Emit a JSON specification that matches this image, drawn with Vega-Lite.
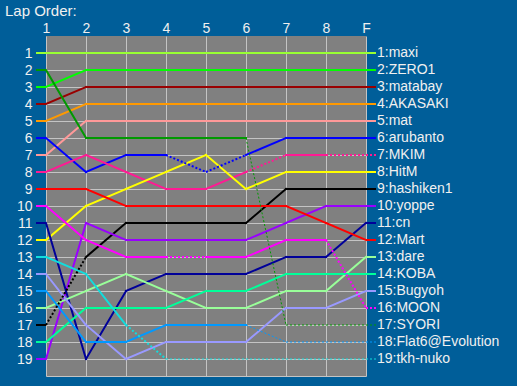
{
  "$schema": "https://vega.github.io/schema/vega-lite/v6.json",
  "autosize": "none",
  "width": 320,
  "height": 340,
  "padding": {"left": 46, "top": 36, "right": 151, "bottom": 10},
  "background": "#005e99",
  "title": {"text": "Lap Order:", "anchor": "start", "frame": "group", "dx": -41, "dy": 2, "fontSize": 15, "font": "Liberation Sans", "fontWeight": "normal", "color": "#f0f0f0", "offset": 4},
  "config": {
    "view": {"fill": "#808080", "stroke": null},
    "axis": {"labelColor": "#f0f0f0", "labelFont": "Liberation Sans", "labelFontSize": 14, "domain": false, "ticks": false, "tickSize": 0, "grid": true, "gridColor": "#c4c4c4", "gridWidth": 1, "title": null}
  },
  "data": {"values": [
    {"n":"maxi","l":1,"p":1},{"n":"maxi","l":2,"p":1},{"n":"maxi","l":3,"p":1},{"n":"maxi","l":4,"p":1},{"n":"maxi","l":5,"p":1},{"n":"maxi","l":6,"p":1},{"n":"maxi","l":7,"p":1},{"n":"maxi","l":8,"p":1},{"n":"maxi","l":9,"p":1},
    {"n":"ZERO1","l":1,"p":3},{"n":"ZERO1","l":2,"p":2},{"n":"ZERO1","l":3,"p":2},{"n":"ZERO1","l":4,"p":2},{"n":"ZERO1","l":5,"p":2},{"n":"ZERO1","l":6,"p":2},{"n":"ZERO1","l":7,"p":2},{"n":"ZERO1","l":8,"p":2},{"n":"ZERO1","l":9,"p":2},
    {"n":"matabay","l":1,"p":4},{"n":"matabay","l":2,"p":3},{"n":"matabay","l":3,"p":3},{"n":"matabay","l":4,"p":3},{"n":"matabay","l":5,"p":3},{"n":"matabay","l":6,"p":3},{"n":"matabay","l":7,"p":3},{"n":"matabay","l":8,"p":3},{"n":"matabay","l":9,"p":3},
    {"n":"AKASAKI","l":1,"p":5},{"n":"AKASAKI","l":2,"p":4},{"n":"AKASAKI","l":3,"p":4},{"n":"AKASAKI","l":4,"p":4},{"n":"AKASAKI","l":5,"p":4},{"n":"AKASAKI","l":6,"p":4},{"n":"AKASAKI","l":7,"p":4},{"n":"AKASAKI","l":8,"p":4},{"n":"AKASAKI","l":9,"p":4},
    {"n":"mat","l":1,"p":7},{"n":"mat","l":2,"p":5},{"n":"mat","l":3,"p":5},{"n":"mat","l":4,"p":5},{"n":"mat","l":5,"p":5},{"n":"mat","l":6,"p":5},{"n":"mat","l":7,"p":5},{"n":"mat","l":8,"p":5},{"n":"mat","l":9,"p":5},
    {"n":"arubanto","l":1,"p":6},{"n":"arubanto","l":2,"p":8},{"n":"arubanto","l":3,"p":7},{"n":"arubanto","l":4,"p":7},{"n":"arubanto","l":5,"p":8,"s":"pit"},{"n":"arubanto","l":6,"p":7,"s":"pit"},{"n":"arubanto","l":7,"p":6},{"n":"arubanto","l":8,"p":6},{"n":"arubanto","l":9,"p":6},
    {"n":"MKIM","l":1,"p":8},{"n":"MKIM","l":2,"p":7},{"n":"MKIM","l":3,"p":8},{"n":"MKIM","l":4,"p":9},{"n":"MKIM","l":5,"p":9},{"n":"MKIM","l":6,"p":8},{"n":"MKIM","l":7,"p":7,"s":"pit"},{"n":"MKIM","l":8,"p":7},{"n":"MKIM","l":9,"p":7,"s":"pit"},
    {"n":"HitM","l":1,"p":12},{"n":"HitM","l":2,"p":10},{"n":"HitM","l":3,"p":9},{"n":"HitM","l":4,"p":8},{"n":"HitM","l":5,"p":7},{"n":"HitM","l":6,"p":9},{"n":"HitM","l":7,"p":8},{"n":"HitM","l":8,"p":8},{"n":"HitM","l":9,"p":8},
    {"n":"hashiken1","l":1,"p":17},{"n":"hashiken1","l":2,"p":13,"s":"pit"},{"n":"hashiken1","l":3,"p":11},{"n":"hashiken1","l":4,"p":11},{"n":"hashiken1","l":5,"p":11},{"n":"hashiken1","l":6,"p":11},{"n":"hashiken1","l":7,"p":9},{"n":"hashiken1","l":8,"p":9},{"n":"hashiken1","l":9,"p":9},
    {"n":"yoppe","l":1,"p":19},{"n":"yoppe","l":2,"p":11},{"n":"yoppe","l":3,"p":12},{"n":"yoppe","l":4,"p":12},{"n":"yoppe","l":5,"p":12},{"n":"yoppe","l":6,"p":12},{"n":"yoppe","l":7,"p":11},{"n":"yoppe","l":8,"p":10},{"n":"yoppe","l":9,"p":10},
    {"n":"cn","l":1,"p":11},{"n":"cn","l":2,"p":19},{"n":"cn","l":3,"p":15},{"n":"cn","l":4,"p":14},{"n":"cn","l":5,"p":14},{"n":"cn","l":6,"p":14},{"n":"cn","l":7,"p":13},{"n":"cn","l":8,"p":13},{"n":"cn","l":9,"p":11},
    {"n":"Mart","l":1,"p":9},{"n":"Mart","l":2,"p":9},{"n":"Mart","l":3,"p":10},{"n":"Mart","l":4,"p":10},{"n":"Mart","l":5,"p":10},{"n":"Mart","l":6,"p":10},{"n":"Mart","l":7,"p":10},{"n":"Mart","l":8,"p":11},{"n":"Mart","l":9,"p":12},
    {"n":"dare","l":1,"p":16},{"n":"dare","l":2,"p":15},{"n":"dare","l":3,"p":14},{"n":"dare","l":4,"p":15},{"n":"dare","l":5,"p":16},{"n":"dare","l":6,"p":16},{"n":"dare","l":7,"p":15},{"n":"dare","l":8,"p":15},{"n":"dare","l":9,"p":13},
    {"n":"KOBA","l":1,"p":18},{"n":"KOBA","l":2,"p":16},{"n":"KOBA","l":3,"p":16},{"n":"KOBA","l":4,"p":16},{"n":"KOBA","l":5,"p":15},{"n":"KOBA","l":6,"p":15},{"n":"KOBA","l":7,"p":14},{"n":"KOBA","l":8,"p":14},{"n":"KOBA","l":9,"p":14},
    {"n":"Bugyoh","l":1,"p":14},{"n":"Bugyoh","l":2,"p":17},{"n":"Bugyoh","l":3,"p":19},{"n":"Bugyoh","l":4,"p":18},{"n":"Bugyoh","l":5,"p":18},{"n":"Bugyoh","l":6,"p":18},{"n":"Bugyoh","l":7,"p":16},{"n":"Bugyoh","l":8,"p":16},{"n":"Bugyoh","l":9,"p":15},
    {"n":"MOON","l":1,"p":10},{"n":"MOON","l":2,"p":12},{"n":"MOON","l":3,"p":13},{"n":"MOON","l":4,"p":13},{"n":"MOON","l":5,"p":13,"s":"pit"},{"n":"MOON","l":6,"p":13},{"n":"MOON","l":7,"p":12},{"n":"MOON","l":8,"p":12},{"n":"MOON","l":9,"p":16,"s":"pit"},
    {"n":"SYORI","l":1,"p":2},{"n":"SYORI","l":2,"p":6},{"n":"SYORI","l":3,"p":6},{"n":"SYORI","l":4,"p":6},{"n":"SYORI","l":5,"p":6},{"n":"SYORI","l":6,"p":6},{"n":"SYORI","l":7,"p":17,"s":"out"},{"n":"SYORI","l":8,"p":17,"s":"out"},{"n":"SYORI","l":9,"p":17,"s":"out"},
    {"n":"Flat6@Evolution","l":1,"p":15},{"n":"Flat6@Evolution","l":2,"p":18},{"n":"Flat6@Evolution","l":3,"p":18},{"n":"Flat6@Evolution","l":4,"p":17},{"n":"Flat6@Evolution","l":5,"p":17},{"n":"Flat6@Evolution","l":6,"p":17},{"n":"Flat6@Evolution","l":7,"p":18,"s":"out"},{"n":"Flat6@Evolution","l":8,"p":18,"s":"out"},{"n":"Flat6@Evolution","l":9,"p":18,"s":"out"},
    {"n":"tkh-nuko","l":1,"p":13},{"n":"tkh-nuko","l":2,"p":14},{"n":"tkh-nuko","l":3,"p":17},{"n":"tkh-nuko","l":4,"p":19,"s":"pit"},{"n":"tkh-nuko","l":5,"p":19,"s":"out"},{"n":"tkh-nuko","l":6,"p":19,"s":"out"},{"n":"tkh-nuko","l":7,"p":19,"s":"out"},{"n":"tkh-nuko","l":8,"p":19,"s":"out"},{"n":"tkh-nuko","l":9,"p":19,"s":"out"}
  ]},
  "encoding": {
    "x": {"field": "l", "type": "quantitative", "scale": {"domain": [1, 9], "nice": false, "zero": false},
      "axis": {"orient": "top", "values": [1,2,3,4,5,6,7,8,9], "labelExpr": "datum.value == 9 ? 'F' : datum.label", "labelPadding": 1, "labelFlush": false}},
    "y": {"field": "p", "type": "quantitative", "scale": {"domain": [0, 20], "reverse": true, "nice": false, "zero": false},
      "axis": {"orient": "left", "values": [1,2,3,4,5,6,7,8,9,10,11,12,13,14,15,16,17,18,19,20], "labelExpr": "datum.value == 20 ? '' : datum.label", "labelPadding": 14, "labelBaseline": "middle"}},
    "color": {"field": "n", "type": "nominal", "legend": null,
      "scale": {"domain": ["maxi","ZERO1","matabay","AKASAKI","mat","arubanto","MKIM","HitM","hashiken1","yoppe","cn","Mart","dare","KOBA","Bugyoh","MOON","SYORI","Flat6@Evolution","tkh-nuko"],
        "range": ["#99ff33","#00ff00","#990000","#ff9900","#ff9999","#0000ff","#ff1a94","#ffff00","#000000","#9900ff","#000099","#ff0000","#99ff99","#00ff99","#9999ff","#ff00ff","#009900","#0099ff","#11dddd"]}}
  },
  "layer": [
    {
      "transform": [
        {"window": [{"op": "lead", "field": "l", "as": "l2"}, {"op": "lead", "field": "p", "as": "p2"}, {"op": "lead", "field": "s", "as": "s2"}], "groupby": ["n"], "sort": [{"field": "l"}]},
        {"filter": "datum.l2 != null && !datum.s2"}
      ],
      "mark": {"type": "rule", "strokeWidth": 2, "strokeCap": "square"},
      "encoding": {"x2": {"field": "l2"}, "y2": {"field": "p2"}}
    },
    {
      "transform": [
        {"window": [{"op": "lead", "field": "l", "as": "l2"}, {"op": "lead", "field": "p", "as": "p2"}, {"op": "lead", "field": "s", "as": "s2"}], "groupby": ["n"], "sort": [{"field": "l"}]},
        {"filter": "datum.l2 != null && datum.s2 === 'pit'"}
      ],
      "mark": {"type": "rule", "strokeWidth": 2, "strokeDash": [2, 2]},
      "encoding": {"x2": {"field": "l2"}, "y2": {"field": "p2"}}
    },
    {
      "transform": [
        {"window": [{"op": "lead", "field": "l", "as": "l2"}, {"op": "lead", "field": "p", "as": "p2"}, {"op": "lead", "field": "s", "as": "s2"}], "groupby": ["n"], "sort": [{"field": "l"}]},
        {"filter": "datum.l2 != null && datum.s2 === 'out'"}
      ],
      "mark": {"type": "rule", "strokeWidth": 1, "strokeDash": [2, 2]},
      "encoding": {"x2": {"field": "l2"}, "y2": {"field": "p2"}}
    },
    {
      "transform": [{"filter": "datum.l == 1"}],
      "mark": {"type": "rule", "strokeWidth": 2, "xOffset": -10, "x2Offset": 0},
      "encoding": {"x2": {"field": "l"}}
    },
    {
      "transform": [{"filter": "datum.l == 9 && !datum.s"}],
      "mark": {"type": "rule", "strokeWidth": 2, "x2Offset": 10},
      "encoding": {"x2": {"field": "l"}}
    },
    {
      "transform": [{"filter": "datum.l == 9 && datum.s === 'pit'"}],
      "mark": {"type": "rule", "strokeWidth": 2, "x2Offset": 10, "strokeDash": [2, 2]},
      "encoding": {"x2": {"field": "l"}}
    },
    {
      "transform": [{"filter": "datum.l == 9 && datum.s === 'out'"}],
      "mark": {"type": "rule", "strokeWidth": 1, "x2Offset": 10, "strokeDash": [2, 2]},
      "encoding": {"x2": {"field": "l"}}
    },
    {
      "transform": [{"filter": "datum.l == 9"}, {"calculate": "datum.p + ':' + datum.n", "as": "label"}],
      "mark": {"type": "text", "align": "left", "baseline": "middle", "dx": 11, "font": "Liberation Sans", "fontSize": 14},
      "encoding": {"text": {"field": "label"}, "color": {"value": "#f0f0f0"}}
    }
  ]
}
